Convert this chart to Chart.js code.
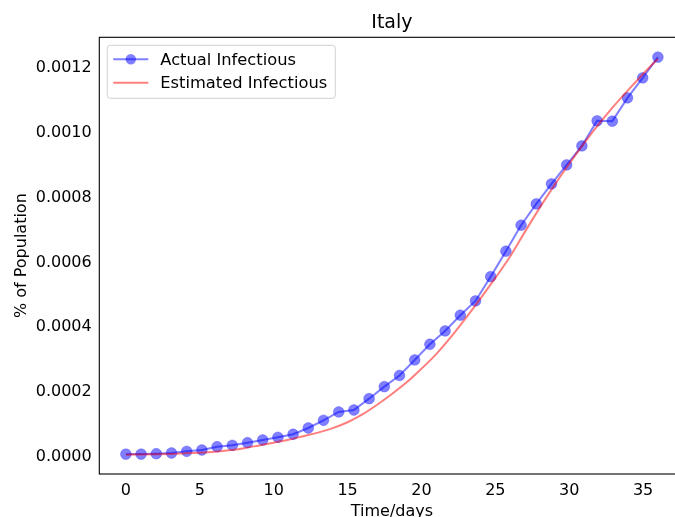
<!DOCTYPE html>
<html>
<head>
<meta charset="utf-8">
<script src="https://cdn.jsdelivr.net/npm/chart.js@4.4.1/dist/chart.umd.min.js"></script>
<style>
  html, body { margin: 0; padding: 0; overflow: hidden; background: #fff; }
  canvas { display: block; }
</style>
</head>
<body>
<canvas id="italy" width="700" height="517"></canvas>
<script>
// sample times of the reported series (36 samples over 36 days)
var days = [0, 1.029, 2.057, 3.086, 4.114, 5.143, 6.171, 7.2, 8.229, 9.257, 10.286, 11.314,
  12.343, 13.371, 14.4, 15.429, 16.457, 17.486, 18.514, 19.543, 20.571, 21.6, 22.629, 23.657,
  24.686, 25.714, 26.743, 27.771, 28.8, 29.829, 30.857, 31.886, 32.914, 33.943, 34.971, 36];
var actual = [0.0000026, 0.0000028, 0.000004, 0.0000062, 0.0000114, 0.0000154, 0.0000256, 0.0000299,
  0.0000379, 0.0000463, 0.0000546, 0.0000639, 0.0000833, 0.000107, 0.0001327, 0.0001388, 0.0001737,
  0.0002107, 0.0002453, 0.0002931, 0.0003415, 0.0003825, 0.000431, 0.0004751, 0.00055, 0.0006284,
  0.0007086, 0.0007743, 0.000836, 0.0008947, 0.0009532, 0.0010304, 0.0010294, 0.0011013, 0.001163, 0.0012269];

var estDays = [0, 1, 2, 3, 4, 5, 6, 7, 8, 9, 10, 11, 12, 13, 14, 15, 16, 17, 18, 19, 20, 21, 22, 23,
  24, 25, 26, 27, 28, 29, 30, 31, 32, 33, 34, 35, 36];
var estimated = [0.000001, 0.0000015, 0.0000022, 0.0000033, 0.000005, 0.0000071, 0.00001, 0.0000145,
  0.000021, 0.0000295, 0.000038, 0.000047, 0.000058, 0.000069, 0.000083, 0.000101, 0.000125, 0.000155,
  0.000188, 0.000224, 0.000266, 0.000311, 0.000364, 0.000422, 0.000483, 0.000546, 0.000612, 0.000688,
  0.000762, 0.000832, 0.000898, 0.000961, 0.00102, 0.001075, 0.001126, 0.001175, 0.001222];

var xTicks = [0, 5, 10, 15, 20, 25, 30, 35];
var yTicks = [0, 0.0002, 0.0004, 0.0006, 0.0008, 0.0010, 0.0012];

function pairs(xs, ys) {
  return ys.map(function (y, i) { return { x: xs[i], y: y }; });
}

Chart.defaults.font.family = '"DejaVu Sans", sans-serif';
Chart.defaults.font.size = 16;
Chart.defaults.color = '#000';

// axes box + matplotlib style legend
var frameAndLegend = {
  id: 'frameAndLegend',
  afterDraw: function (chart) {
    var c = chart.ctx, a = chart.chartArea;
    c.save();
    c.strokeStyle = '#000';
    c.lineWidth = 1.1;
    c.strokeRect(a.left, a.top, a.right - a.left, a.bottom - a.top);

    var bx = a.left + 8, by = a.top + 8, bw = 228, bh = 53;
    c.beginPath();
    c.roundRect(bx, by, bw, bh, 3);
    c.fillStyle = 'rgba(255,255,255,0.8)';
    c.fill();
    c.strokeStyle = 'rgba(204,204,204,0.9)';
    c.lineWidth = 1;
    c.stroke();

    var rows = [by + 14, by + 37.5];
    chart.data.datasets.forEach(function (ds, i) {
      var y = rows[i];
      c.strokeStyle = ds.borderColor;
      c.lineWidth = 2;
      c.beginPath();
      c.moveTo(bx + 6, y);
      c.lineTo(bx + 41, y);
      c.stroke();
      if (ds.pointRadius > 0) {
        c.beginPath();
        c.arc(bx + 23.5, y, 5.2, 0, Math.PI * 2);
        c.fillStyle = ds.pointBackgroundColor;
        c.fill();
      }
      c.fillStyle = '#000';
      c.font = '16.3px "DejaVu Sans", sans-serif';
      c.textBaseline = 'middle';
      c.textAlign = 'left';
      c.fillText(ds.label, bx + 53, y + 1);
    });
    c.restore();
  }
};

new Chart(document.getElementById('italy'), {
  type: 'line',
  data: {
    datasets: [{
      label: 'Actual Infectious',
      data: pairs(days, actual),
      borderColor: 'rgba(0,0,255,0.5)',
      backgroundColor: 'rgba(0,0,255,0.5)',
      pointBackgroundColor: 'rgba(0,0,255,0.5)',
      pointBorderColor: 'rgba(0,0,255,0.25)',
      pointBorderWidth: 1,
      pointRadius: 5.4,
      borderWidth: 2,
      order: 2
    }, {
      label: 'Estimated Infectious',
      data: pairs(estDays, estimated),
      borderColor: 'rgba(255,0,0,0.5)',
      backgroundColor: 'rgba(255,0,0,0.5)',
      pointRadius: 0,
      borderWidth: 2,
      cubicInterpolationMode: 'monotone',
      order: 1
    }]
  },
  options: {
    responsive: false,
    animation: false,
    events: [],
    layout: { padding: { left: 0, top: 0, right: 15.5, bottom: 0 } },
    plugins: {
      legend: { display: false },
      tooltip: { enabled: false },
      title: {
        display: true,
        text: 'Italy',
        fullSize: false,
        font: { size: 19, weight: 'normal' },
        padding: { top: 12, bottom: 2.5 }
      }
    },
    scales: {
      x: {
        type: 'linear',
        min: -1.8,
        max: 37.8,
        grid: { display: false, drawTicks: false },
        border: { display: false },
        ticks: { padding: 7, maxRotation: 0 },
        afterBuildTicks: function (s) { s.ticks = xTicks.map(function (v) { return { value: v }; }); },
        afterFit: function (s) { s.height = 43; },
        title: { display: true, text: 'Time/days', font: { size: 16, lineHeight: 0.625 }, padding: 0 }
      },
      y: {
        type: 'linear',
        min: -0.0000586,
        max: 0.001288,
        grid: { display: false, drawTicks: false },
        border: { display: false },
        ticks: {
          padding: 7.6,
          labelOffset: 2,
          callback: function (v) { return v.toFixed(4); }
        },
        afterBuildTicks: function (s) { s.ticks = yTicks.map(function (v) { return { value: v }; }); },
        afterFit: function (s) { s.width = 99.3; },
        title: { display: true, text: '% of Population', font: { size: 16, lineHeight: 1 }, padding: { top: 14, bottom: 0 } }
      }
    }
  },
  plugins: [frameAndLegend]
});
</script>
</body>
</html>
